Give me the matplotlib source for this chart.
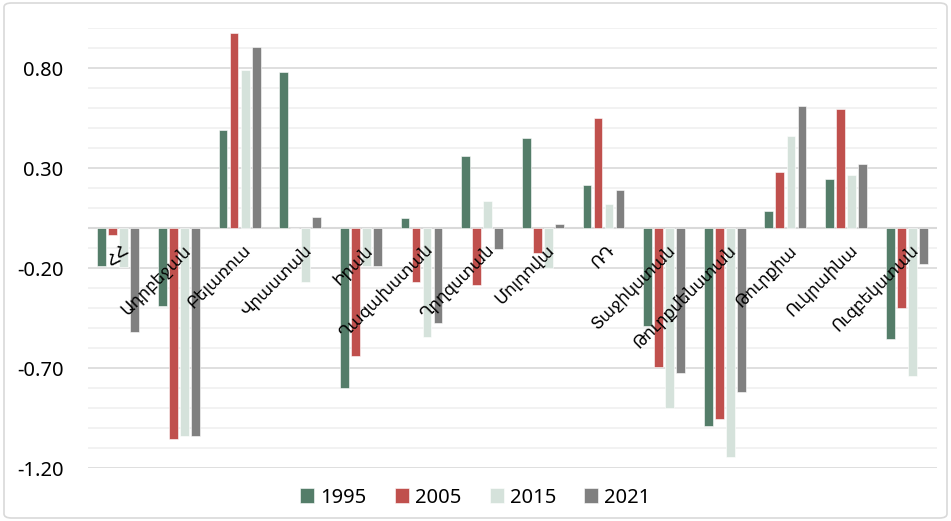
import numpy as np
import matplotlib.pyplot as plt
import matplotlib.transforms as mtransforms
from matplotlib.patches import FancyBboxPatch
from matplotlib.ticker import FixedLocator, FormatStrFormatter

countries = ['ՀՀ', 'Ադրբեջան', 'Բելառուս', 'Վրաստան', 'Իրան', 'Ղազախստան',
             'Ղրղզստան', 'Մոլդովա', 'ՌԴ', 'Տաջիկստան', 'Թուրքմենստան',
             'Թուրքիա', 'Ուկրաինա', 'Ուզբեկստան']
years = ['1995', '2005', '2015', '2021']

v1995 = [-0.19, -0.39, 0.49, 0.78, -0.80, 0.05, 0.36, 0.45, 0.215, -0.49, -0.99, 0.083, 0.245, -0.555]
v2005 = [-0.035, -1.055, 0.975, 0.0, -0.64, -0.27, -0.285, -0.125, 0.55, -0.695, -0.957, 0.28, 0.595, -0.40]
v2015 = [-0.195, -1.04, 0.79, -0.27, -0.19, -0.545, 0.135, -0.20, 0.12, -0.90, -1.145, 0.46, 0.265, -0.74]
v2021 = [-0.52, -1.04, 0.905, 0.053, -0.19, -0.475, -0.105, 0.02, 0.19, -0.725, -0.82, 0.61, 0.32, -0.18]

colors = ['#547D69', '#C0504D', '#D5E2DB', '#808080']

plt.rcParams['font.family'] = ['Noto Sans', 'DejaVu Sans']

fig = plt.figure(figsize=(9.51, 5.21), dpi=100)
ax = fig.add_axes([88 / 951, 53 / 521, 849 / 951, 440 / 521])

# rounded chart border
fig.patches.append(FancyBboxPatch((4 / 951, 3 / 521), 943 / 951, 515 / 521,
                                  boxstyle='round,pad=0,rounding_size=0.008',
                                  transform=fig.transFigure, fill=False,
                                  edgecolor='#d9d9d9', linewidth=1.2))

x = np.arange(len(countries))
pitch = 0.182
width = 0.145
series = [v1995, v2005, v2015, v2021]
for k, (vals, col, yr) in enumerate(zip(series, colors, years)):
    ax.bar(x + (k - 1.5) * pitch, vals, width=width, color=col,
           edgecolor='white', linewidth=0.4, label=yr, zorder=3)

ax.set_xlim(-0.5, len(countries) - 0.5)
ax.set_ylim(-1.2, 1.0)

ax.yaxis.set_major_locator(FixedLocator([-1.2, -0.7, -0.2, 0.3, 0.8]))
ax.yaxis.set_major_formatter(FormatStrFormatter('%.2f'))
ax.yaxis.set_minor_locator(FixedLocator(np.round(np.arange(-1.2, 1.01, 0.1), 2)))
ax.grid(which='minor', axis='y', color='#f0f0f0', linewidth=1.2, zorder=0)
ax.grid(which='major', axis='y', color='#d9d9d9', linewidth=1.2, zorder=1)
ax.axhline(0, color='#d9d9d9', linewidth=1.5, zorder=2)
ax.tick_params(axis='y', which='both', length=0, labelsize=14.5, pad=17.5)
ax.tick_params(axis='x', length=0, labelbottom=False)
for s in ax.spines.values():
    s.set_visible(False)

# category names sit just under the zero line, slanted
offset = mtransforms.ScaledTranslation(1.5 / 72, -9 / 72, fig.dpi_scale_trans)
for i, name in enumerate(countries):
    ax.text(i, 0, name, rotation=45, rotation_mode='anchor', ha='right', va='top',
            fontsize=12, transform=ax.transData + offset, zorder=4,
            family=['DejaVu Sans'])

# legend centred on the whole figure, below the plot
fig.legend(*ax.get_legend_handles_labels(), loc='center', bbox_to_anchor=(0.5, 0.045),
           ncol=4, frameon=False, fontsize=14.5, handlelength=0.7, handleheight=0.7,
           handletextpad=0.3, columnspacing=1.4)

fig.savefig('out.png', dpi=100)
